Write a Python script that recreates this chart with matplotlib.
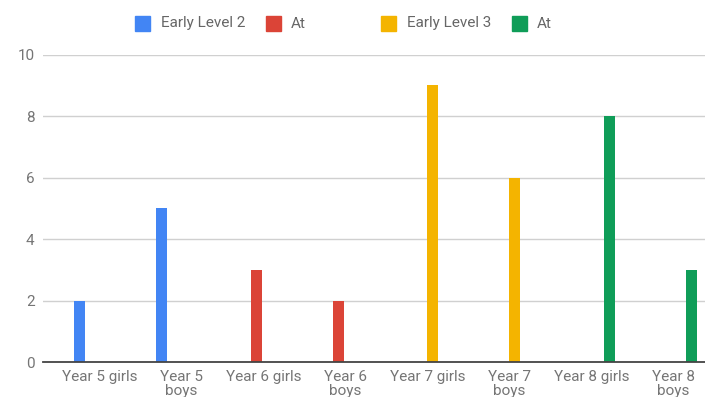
import matplotlib
matplotlib.use("Agg")
import matplotlib.pyplot as plt
from matplotlib.patches import Rectangle
import numpy as np

categories = ["Year 5 girls", "Year 5\nboys", "Year 6 girls", "Year 6\nboys",
              "Year 7 girls", "Year 7\nboys", "Year 8 girls", "Year 8\nboys"]
series_names = ["Early Level 2", "At", "Early Level 3", "At"]
early_level_2 = [2, 5, 0, 0, 0, 0, 0, 0]
at_level_2 = [0, 0, 3, 2, 0, 0, 0, 0]
early_level_3 = [0, 0, 0, 0, 9, 6, 0, 0]
at_level_3 = [0, 0, 0, 0, 0, 0, 8, 3]
colors = ["#4285F4", "#DB4437", "#F4B400", "#0F9D58"]
yticks = [0, 2, 4, 6, 8, 10]

plt.rcParams['font.family'] = ['Roboto', 'DejaVu Sans']

W, H = 705, 397
fig = plt.figure(figsize=(W / 100, H / 100), dpi=100)
ax_left, ax_right, ax_bottom, ax_top = 43, 705, 362, 54.7
ax = fig.add_axes([ax_left / W, 1 - ax_bottom / H, (ax_right - ax_left) / W,
                   (ax_bottom - ax_top) / H])

all_series = [early_level_2, at_level_2, early_level_3, at_level_3]
x = np.arange(len(categories))
slot = 0.156
width = 0.134
for k, (vals, col) in enumerate(zip(all_series, colors)):
    offs = (k - 1.5) * slot - 0.012
    ax.bar(x + offs, vals, width=width, color=col, zorder=3)

ax.set_ylim(0, 10)
ax.set_xlim((ax_left - 99.5) / 82, (ax_right - 99.5) / 82)
ax.set_yticks(yticks)
ax.set_yticklabels([str(t) for t in yticks])
ax.set_xticks(x)
ax.set_xticklabels(categories, linespacing=1.0, va="top")
ax.tick_params(axis="both", length=0, colors="#757575", labelsize=11)
ax.tick_params(axis="y", pad=6)
ax.tick_params(axis="x", pad=5.5)
ax.grid(axis="y", color="#d0d0d0", linewidth=1.0, zorder=0)
ax.set_axisbelow(True)
for s in ["top", "right", "left"]:
    ax.spines[s].set_visible(False)
ax.spines["bottom"].set_color("#444444")
ax.spines["bottom"].set_linewidth(1.3)
ax.spines["bottom"].set_zorder(4)

# legend, drawn manually
legend_items = [(135, 161), (266, 291), (381, 407), (512, 537)]
ly = 23.5
for (sx, tx), name, col in zip(legend_items, series_names, colors):
    fig.patches.append(Rectangle((sx / W, 1 - (ly + 7.5) / H), 15 / W, 15 / H,
                                 transform=fig.transFigure, color=col,
                                 figure=fig))
    fig.text(tx / W, 1 - ly / H, name, ha="left", va="center",
             fontsize=11, color="#666666")

fig.savefig("out.png", dpi=100)
